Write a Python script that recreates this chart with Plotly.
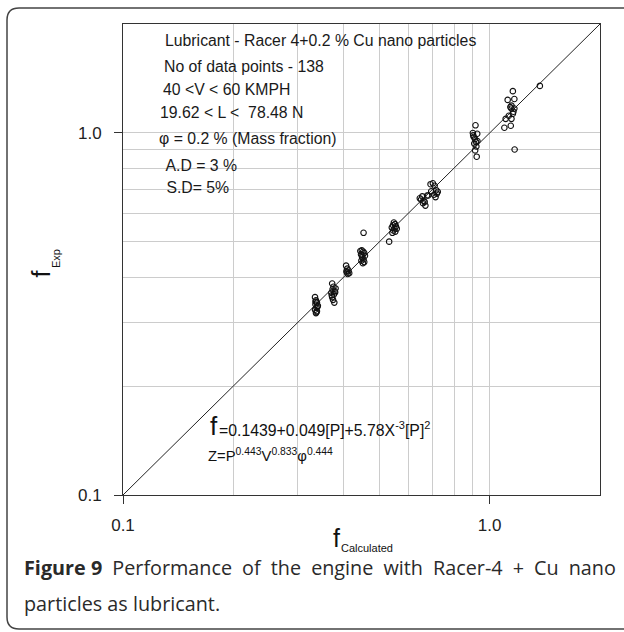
import plotly.graph_objects as go

# ---- data ----
f_calc_A = [0.334, 0.336, 0.338, 0.335, 0.340, 0.337, 0.334, 0.338, 0.336, 0.339, 0.335, 0.337]
f_exp_A = [0.352, 0.345, 0.340, 0.336, 0.333, 0.329, 0.325, 0.322, 0.318, 0.331, 0.342, 0.320]
f_calc_B = [0.372, 0.375, 0.373, 0.378, 0.370, 0.376, 0.380, 0.372, 0.374, 0.377, 0.371, 0.379]
f_exp_B = [0.384, 0.376, 0.370, 0.366, 0.362, 0.358, 0.372, 0.352, 0.346, 0.340, 0.356, 0.363]
f_calc_C = [0.406, 0.409, 0.412, 0.408, 0.414, 0.410, 0.407]
f_exp_C = [0.430, 0.422, 0.417, 0.412, 0.410, 0.408, 0.415]
f_calc_D = [0.444, 0.448, 0.452, 0.455, 0.446, 0.450, 0.457, 0.449, 0.453, 0.447, 0.455, 0.451, 0.453]
f_exp_D = [0.472, 0.474, 0.470, 0.466, 0.462, 0.460, 0.458, 0.454, 0.448, 0.444, 0.440, 0.437, 0.530]
f_calc_E = [0.548, 0.552, 0.545, 0.555, 0.541, 0.550, 0.558, 0.546, 0.553, 0.543, 0.532]
f_exp_E = [0.566, 0.560, 0.556, 0.552, 0.548, 0.545, 0.544, 0.538, 0.534, 0.530, 0.501]
f_calc_F = [0.645, 0.655, 0.660, 0.658, 0.668, 0.675, 0.690, 0.700, 0.708, 0.715, 0.718, 0.722,
            0.712, 0.693, 0.705, 0.665, 0.680, 0.650]
f_exp_F = [0.660, 0.668, 0.650, 0.640, 0.630, 0.672, 0.722, 0.726, 0.715, 0.695, 0.680, 0.688,
           0.665, 0.690, 0.675, 0.645, 0.672, 0.655]
f_calc_G = [0.915, 0.900, 0.925, 0.905, 0.912, 0.926, 0.908, 0.920, 0.913, 0.922, 0.902, 0.918]
f_exp_G = [1.050, 1.000, 0.995, 0.975, 0.962, 0.950, 0.935, 0.918, 0.895, 0.860, 0.985, 0.945]
f_calc_H = [1.157, 1.120, 1.168, 1.139, 1.147, 1.161, 1.128, 1.157, 1.106, 1.147, 1.097, 1.142,
            1.168, 1.147, 1.170, 1.371]
f_exp_H = [1.305, 1.234, 1.241, 1.179, 1.168, 1.145, 1.116, 1.130, 1.094, 1.094, 1.034, 1.047,
           1.168, 1.190, 0.900, 1.349]

f_calculated = f_calc_A + f_calc_B + f_calc_C + f_calc_D + f_calc_E + f_calc_F + f_calc_G + f_calc_H
f_experimental = f_exp_A + f_exp_B + f_exp_C + f_exp_D + f_exp_E + f_exp_F + f_exp_G + f_exp_H

diag_line = [0.1, 2.0]
major_ticks = [0.1, 1.0]
major_labels = ["0.1", "1.0"]
minor_ticks = [0.2, 0.3, 0.4, 0.5, 0.6, 0.7, 0.8, 0.9]

info_lines = [
    "Lubricant - Racer 4+0.2 % Cu nano particles",
    "No of data points - 138",
    "40 <V < 60 KMPH",
    "19.62 < L <  78.48 N",
    "φ = 0.2 % (Mass fraction)",
    " A.D = 3 %",
    " S.D= 5%",
]
formula_1 = "=0.1439+0.049[P]+5.78X<sup>-3</sup>[P]<sup>2</sup>"
formula_2 = "Z=P<sup>0.443</sup>V<sup>0.833</sup>φ<sup>0.444</sup>"
caption_1_words = ["<b>Figure 9</b>", "Performance", "of", "the", "engine", "with",
                   "Racer-4", "+", "Cu", "nano"]
caption_2 = "particles as lubricant."

# ---- layout geometry (pixels) ----
W, H = 624, 632
ML, MR, MT, MB = 123, 24, 24, 137
PW, PH = W - ML - MR, H - MT - MB


def px(x):
    return (x - ML) / PW


def py(y):
    return (H - MB - y) / PH


ARIAL = "Liberation Sans, Arial, sans-serif"

fig = go.Figure()
fig.add_trace(go.Scatter(x=diag_line, y=diag_line, mode="lines",
                         line=dict(color="#222222", width=1), hoverinfo="skip",
                         showlegend=False))
fig.add_trace(go.Scatter(x=f_calculated, y=f_experimental, mode="markers",
                         marker=dict(symbol="circle-open", size=5.5, color="#111111",
                                     line=dict(width=1.1, color="#111111")),
                         showlegend=False))

axis_common = dict(
    type="log", range=[-1, 0.30103], tickvals=major_ticks, ticktext=major_labels,
    showgrid=True, gridcolor="#cccccc", gridwidth=1.4,
    showline=True, linecolor="#333333", linewidth=1, mirror=True,
    zeroline=False, tickfont=dict(family=ARIAL, size=17, color="#222222"),
    minor=dict(tickvals=minor_ticks, showgrid=True, gridcolor="#cccccc", gridwidth=1.4, ticks=""),
)
fig.update_xaxes(**axis_common, ticks="outside", ticklen=8, tickcolor="#333333",
                 ticklabelstandoff=7)
fig.update_yaxes(**axis_common, ticks="outside", ticklen=8, tickcolor="#333333",
                 ticklabelstandoff=9)

ann = []
info_pos = [(162.5, 40.5), (161.5, 66), (161, 90), (158, 113), (156.5, 139), (160, 165), (160, 187)]
for txt, (x, y) in zip(info_lines, info_pos):
    ann.append(dict(x=px(x), y=py(y), xref="paper", yref="paper", text=txt, showarrow=False,
                    xanchor="left", yanchor="middle",
                    font=dict(family=ARIAL, size=15.8, color="#1a1a1a")))

# formula
ann.append(dict(x=px(208), y=py(426), xref="paper", yref="paper", text="f", showarrow=False,
                xanchor="left", yanchor="middle", font=dict(family=ARIAL, size=26, color="#111111")))
ann.append(dict(x=px(217), y=py(429), xref="paper", yref="paper", text=formula_1, showarrow=False,
                xanchor="left", yanchor="middle", font=dict(family=ARIAL, size=15.8, color="#111111")))
ann.append(dict(x=px(206), y=py(455), xref="paper", yref="paper", text=formula_2, showarrow=False,
                xanchor="left", yanchor="middle", font=dict(family=ARIAL, size=14.8, color="#111111")))

# axis titles
ann.append(dict(x=px(336), y=py(538), xref="paper", yref="paper", text="f", showarrow=False,
                xanchor="center", yanchor="middle", font=dict(family=ARIAL, size=25, color="#111111")))
ann.append(dict(x=px(339), y=py(548), xref="paper", yref="paper", text="Calculated", showarrow=False,
                xanchor="left", yanchor="middle", font=dict(family=ARIAL, size=11, color="#111111")))
ann.append(dict(x=px(40.5), y=py(274), xref="paper", yref="paper", text="f", showarrow=False,
                textangle=-90, xanchor="center", yanchor="middle",
                font=dict(family=ARIAL, size=25, color="#111111")))
ann.append(dict(x=px(56), y=py(259), xref="paper", yref="paper", text="Exp", showarrow=False,
                textangle=-90, xanchor="center", yanchor="middle",
                font=dict(family=ARIAL, size=11, color="#111111")))

# caption (first line justified by widening the word gaps)
CAP = "Open Sans, Noto Sans, sans-serif"
caption_1 = (" \u2005").join(caption_1_words)
ann.append(dict(x=px(22), y=py(567), xref="paper", yref="paper", text=caption_1, showarrow=False,
                xanchor="left", yanchor="middle",
                font=dict(family=CAP, size=19.8, color="#2a2a2a", weight=500)))
ann.append(dict(x=px(22), y=py(603), xref="paper", yref="paper", text=caption_2, showarrow=False,
                xanchor="left", yanchor="middle",
                font=dict(family=CAP, size=19.8, color="#2a2a2a", weight=500)))

# rounded outer frame
x0, y0, x1, y1, r = 7, 8, 640, 629, 12
path = f"M {px(x0 + r)},{py(y0)} L {px(x1)},{py(y0)} L {px(x1)},{py(y1)} L {px(x0 + r)},{py(y1)} " \
       f"Q {px(x0)},{py(y1)} {px(x0)},{py(y1 - r)} L {px(x0)},{py(y0 + r)} " \
       f"Q {px(x0)},{py(y0)} {px(x0 + r)},{py(y0)} Z"
shapes = [dict(type="path", xref="paper", yref="paper", path=path,
               line=dict(color="#444444", width=1.5), fillcolor="rgba(0,0,0,0)", layer="below")]

fig.update_layout(
    width=W, height=H, margin=dict(l=ML, r=MR, t=MT, b=MB),
    paper_bgcolor="white", plot_bgcolor="white",
    annotations=ann, shapes=shapes, showlegend=False,
)

fig.write_html("out.html")
